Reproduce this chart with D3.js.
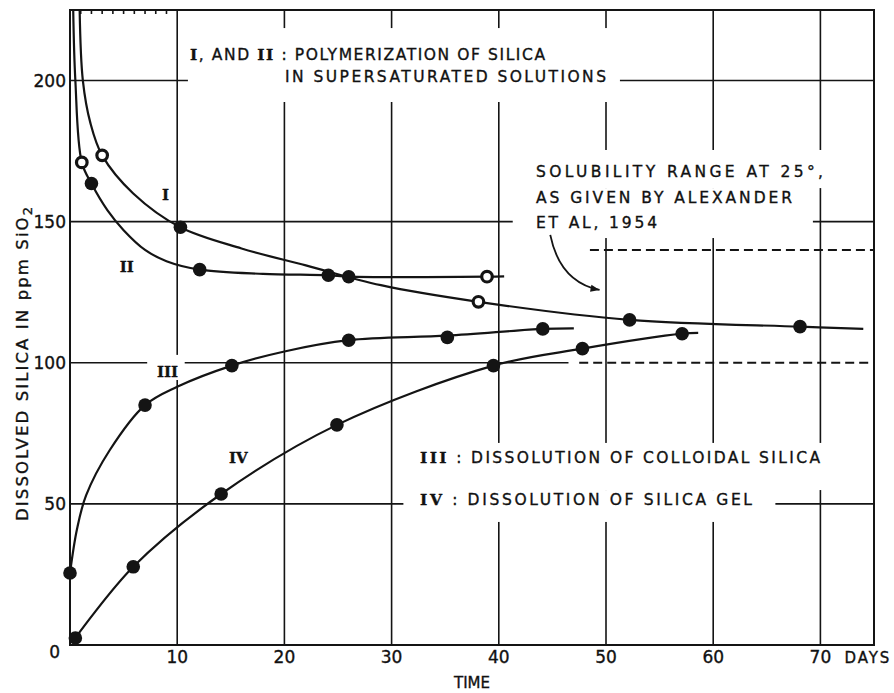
<!DOCTYPE html>
<html>
<head>
<meta charset="utf-8">
<script src="https://cdn.jsdelivr.net/npm/d3@7"></script>
<style>
  body { margin: 0; background: #fff; }
  svg { display: block; background: #fff; }
  .lettering { font-family: 'DejaVu Sans', sans-serif; fill: #111; stroke: #111; stroke-width: 0.35px; }
  .roman { font-family: 'DejaVu Serif', serif; font-weight: bold; }
</style>
</head>
<body>
<div id="chart"></div>
<script>
// ---- data (days, ppm SiO2) ----
const xTicks = [10, 20, 30, 40, 50, 60, 70];
const yTicks = [0, 50, 100, 150, 200];
const topHatch = [1, 2, 3, 4, 5, 6, 7, 8, 9];

// measured points
const pointsI = [[3.0, 173.5], [10.3, 148], [38.1, 121.6], [52.2, 115.2], [68.1, 112.8]];
const pointsII = [[1.1, 171], [2.0, 163.5], [12.1, 133], [24.1, 131], [26, 130.5], [38.9, 130.5]];
const pointsIII = [[0, 25.5], [7.0, 85], [15.1, 99], [26, 108], [35.2, 109], [44.1, 112]];
const pointsIV = [[0.5, 2.5], [5.9, 27.7], [14.1, 53.5], [24.9, 78], [39.5, 99], [47.8, 105], [57.1, 110.3]];

// hand drawn curves
const curveI = [[0.9, 225], [1.2, 200], [1.9, 185], [3.0, 173.5], [5.9, 160], [10.3, 148], [16, 140.5],
  [22, 134.5], [29, 127.5], [38.1, 121.6], [52.2, 115.2], [68.1, 112.8], [74, 112]];
const curveII = [[0.3, 225], [0.5, 200], [1.1, 171], [2.0, 163.5], [3.5, 154], [5, 147], [7, 140], [9, 136],
  [12.1, 133], [18, 131.5], [24.1, 131], [26, 130.5], [38.9, 130.5], [40.5, 130.6]];
const curveIII = [[0, 25.5], [0.65, 41], [1.5, 53], [3.7, 69], [7, 85], [10, 91.5], [15.1, 99],
  [20, 104], [26, 108], [35.2, 109.6], [44.1, 112], [47, 112.2]];
const curveIV = [[0.5, 2.5], [5.9, 27.7], [14.1, 53.5], [24.9, 78], [39.5, 99], [47.8, 105], [57.1, 110.3], [58.6, 110.6]];

// open circles: [series, point index]
const hollow = [['I', 0], ['I', 2], ['II', 0], ['II', 5]];

// solubility range at 25 deg (Alexander et al, 1954)
const solubilityRange = [100, 140];
const solubilityFrom = [47.5, 48.5];

const series = [
  { name: 'I', points: pointsI, curve: curveI },
  { name: 'II', points: pointsII, curve: curveII },
  { name: 'III', points: pointsIII, curve: curveIII },
  { name: 'IV', points: pointsIV, curve: curveIV },
];

// ---- chart ----
const width = 894;
const height = 693;
const ink = '#141414';

const x = d3.scaleLinear().domain([0, 75]).range([70, 874]);
const y = d3.scaleLinear().domain([0, 225]).range([645, 10]);

const $svg = d3.select('#chart').append('svg')
  .attr('width', width)
  .attr('height', height);

// grid
const $grid = $svg.append('g').attr('class', 'grid')
  .attr('stroke', ink).attr('stroke-width', 1.6);

$grid.selectAll('.vgrid')
  .data(xTicks)
  .join('line')
  .attr('class', 'vgrid')
  .attr('x1', d => x(d)).attr('x2', d => x(d))
  .attr('y1', y(0)).attr('y2', y(225));

$grid.selectAll('.hgrid')
  .data(yTicks.filter(d => d > 0))
  .join('line')
  .attr('class', 'hgrid')
  .attr('y1', d => y(d)).attr('y2', d => y(d))
  .attr('x1', x(0))
  .attr('x2', d => (d === solubilityRange[0] ? x(solubilityFrom[0] - 1) : x(75)));

// white knock-outs where the lettering breaks the grid, [x0, x1, y0, y1] in data units
const knockouts = [
  [11.0, 51.3, 192.4, 218.6],
  [41.3, 71.4, 161.9, 175.4],
  [41.3, 69.3, 144.2, 161.9],
  [31.1, 70.9, 54.9, 71.6],
  [31.1, 65.8, 43.6, 54.9],
  [7.2, 10.7, 93.9, 102.8],
];
$svg.append('g').selectAll('rect')
  .data(knockouts)
  .join('rect')
  .attr('x', d => x(d[0]))
  .attr('width', d => x(d[1]) - x(d[0]))
  .attr('y', d => y(d[3]))
  .attr('height', d => y(d[2]) - y(d[3]))
  .attr('fill', '#fff');

// frame
$svg.append('rect')
  .attr('x', x(0)).attr('y', y(225))
  .attr('width', x(75) - x(0)).attr('height', y(0) - y(225))
  .attr('fill', 'none').attr('stroke', ink).attr('stroke-width', 2);

$svg.append('g').selectAll('line')
  .data(topHatch)
  .join('line')
  .attr('x1', d => x(d)).attr('x2', d => x(d))
  .attr('y1', y(225)).attr('y2', y(225) + 4)
  .attr('stroke', ink).attr('stroke-width', 1.6);

// solubility range (dashed)
$svg.append('g').selectAll('line')
  .data(solubilityRange)
  .join('line')
  .attr('x1', (d, i) => x(solubilityFrom[i]))
  .attr('x2', x(75))
  .attr('y1', d => y(d)).attr('y2', d => y(d))
  .attr('stroke', ink).attr('stroke-width', 2)
  .attr('stroke-dasharray', '9,5');

// curves
const line = d3.line()
  .x(d => x(d[0]))
  .y(d => y(d[1]))
  .curve(d3.curveCatmullRom.alpha(0.5));

$svg.append('g').selectAll('path')
  .data(series)
  .join('path')
  .attr('d', d => line(d.curve))
  .attr('fill', 'none')
  .attr('stroke', ink)
  .attr('stroke-width', 2.2);

// markers
const isHollow = (name, i) => hollow.some(h => h[0] === name && h[1] === i);
const marks = series.flatMap(s => s.points.map((p, i) => ({ name: s.name, p, open: isHollow(s.name, i) })));

$svg.append('g').selectAll('circle')
  .data(marks)
  .join('circle')
  .attr('cx', d => x(d.p[0]))
  .attr('cy', d => y(d.p[1]))
  .attr('r', d => (d.open ? 5.3 : 6.8))
  .attr('fill', d => (d.open ? '#fff' : ink))
  .attr('stroke', ink)
  .attr('stroke-width', d => (d.open ? 3.2 : 0));

// axis labels
const $labels = $svg.append('g').attr('class', 'lettering');

$labels.selectAll('.ytick')
  .data(yTicks)
  .join('text')
  .attr('class', 'ytick')
  .attr('x', d => (d === 0 ? x(0) - 10 : x(0) - 4))
  .attr('y', d => (d === 0 ? y(d) + 7 : y(d)))
  .attr('dy', '0.36em')
  .attr('text-anchor', 'end')
  .attr('font-size', 17)
  .text(d => d);

$labels.selectAll('.xtick')
  .data(xTicks)
  .join('text')
  .attr('class', 'xtick')
  .attr('x', d => x(d))
  .attr('y', y(0) + 18)
  .attr('text-anchor', 'middle')
  .attr('font-size', 17)
  .text(d => d);

$labels.append('text')
  .attr('x', x(70) + 24).attr('y', y(0) + 18)
  .attr('font-size', 15)
  .attr('textLength', 45)
  .text('DAYS');

$labels.append('text')
  .attr('x', (x(0) + x(75)) / 2).attr('y', y(0) + 43)
  .attr('text-anchor', 'middle')
  .attr('font-size', 15)
  .text('TIME');

const $ytitle = $labels.append('text')
  .attr('transform', `translate(28, 364) rotate(-90)`)
  .attr('text-anchor', 'middle')
  .attr('font-size', 16.5)
  .attr('textLength', 314)
  .attr('lengthAdjust', 'spacing');
$ytitle.append('tspan').text('DISSOLVED SILICA IN ppm SiO');
$ytitle.append('tspan').attr('dy', 4).attr('font-size', 13).text('2');

// notes: [x, y, length, parts]; roman parts use the serif face
const notes = [
  [190, 60, 355, [['I', true], [', AND ', false], ['II', true], [' : POLYMERIZATION OF SILICA', false]]],
  [285, 82, 321, [['IN SUPERSATURATED SOLUTIONS', false]]],
  [536, 177, 287, [['SOLUBILITY RANGE AT 25°,', false]]],
  [536, 203, 256, [['AS GIVEN BY ALEXANDER', false]]],
  [536, 228, 121, [['ET AL, 1954', false]]],
  [420, 463, 400, [['III', true], [' : DISSOLUTION OF COLLOIDAL SILICA', false]]],
  [420, 505, 332, [['IV', true], [' : DISSOLUTION OF SILICA GEL', false]]],
];

notes.forEach(([nx, ny, len, parts]) => {
  const $t = $labels.append('text')
    .attr('x', nx).attr('y', ny)
    .attr('font-size', 15.5)
    .attr('textLength', len)
    .attr('lengthAdjust', 'spacing');
  parts.forEach(([str, roman]) => {
    $t.append('tspan').attr('class', roman ? 'roman' : null).text(str);
  });
});

// curve numerals
const numerals = [['I', 8.9, 159.5], ['II', 5.3, 134], ['III', 9.1, 96.7], ['IV', 15.7, 66.3]];
$labels.selectAll('.numeral')
  .data(numerals)
  .join('text')
  .attr('class', 'numeral roman')
  .attr('x', d => x(d[1]))
  .attr('y', d => y(d[2]))
  .attr('dy', '0.36em')
  .attr('text-anchor', 'middle')
  .attr('font-size', 15)
  .text(d => d[0]);

// arrow from the solubility note to the dashed range
const arrowFrom = [44.8, 145.3];
const arrowBend = [45.7, 128.6];
const arrowTo = [49.4, 125.8];
$svg.append('path')
  .attr('d', `M${x(arrowFrom[0])},${y(arrowFrom[1])} Q${x(arrowBend[0])},${y(arrowBend[1])} ${x(arrowTo[0])},${y(arrowTo[1])}`)
  .attr('fill', 'none')
  .attr('stroke', ink)
  .attr('stroke-width', 1.8);

const tipAngle = Math.atan2(y(arrowTo[1]) - y(arrowBend[1]), x(arrowTo[0]) - x(arrowBend[0])) * 180 / Math.PI;
$svg.append('path')
  .attr('d', 'M0,0 L-9,-3.5 L-9,3.5 Z')
  .attr('transform', `translate(${x(arrowTo[0])},${y(arrowTo[1])}) rotate(${tipAngle})`)
  .attr('fill', ink);
</script>
</body>
</html>
